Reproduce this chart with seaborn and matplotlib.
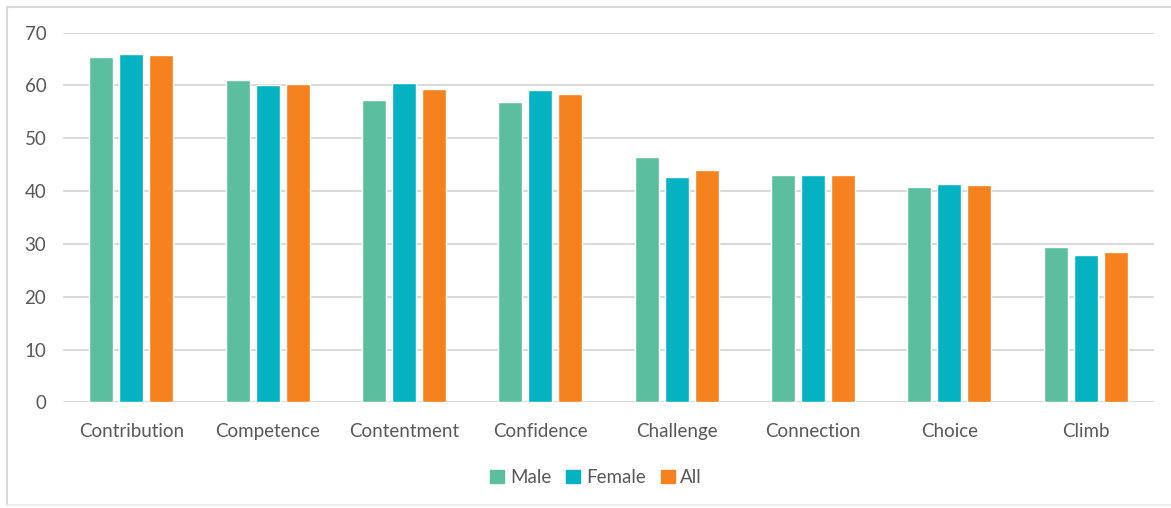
import matplotlib
matplotlib.use("Agg")
import matplotlib.pyplot as plt
from matplotlib.lines import Line2D
import seaborn as sns
import pandas as pd

categories = ["Contribution", "Competence", "Contentment", "Confidence",
              "Challenge", "Connection", "Choice", "Climb"]
male = [65.4, 61.0, 57.2, 56.8, 46.5, 43.1, 40.7, 29.4]
female = [65.9, 60.0, 60.4, 59.1, 42.7, 43.1, 41.4, 27.9]
all_resp = [65.7, 60.2, 59.3, 58.4, 43.9, 43.1, 41.2, 28.5]
groups = ["Male", "Female", "All"]
colors = ["#5BBF9F", "#04B2C2", "#F5821F"]
y_ticks = [0, 10, 20, 30, 40, 50, 60, 70]

df = pd.DataFrame({
    "Category": categories * 3,
    "Group": [g for g in groups for _ in categories],
    "Score": male + female + all_resp,
})

sns.set_theme(style="white")
plt.rcParams["font.family"] = ["Lato", "DejaVu Sans"]
text_color = "#595959"
grid_color = "#D9D9D9"

fig = plt.figure(figsize=(11.71, 5.08), dpi=100)
ax = fig.add_axes([0.0538, 0.2077, 0.9317, 0.7283])

sns.barplot(data=df, x="Category", y="Score", hue="Group",
            hue_order=groups, palette=colors, order=categories,
            width=0.66, gap=0.2, saturation=1, ax=ax, legend=False)

ax.set_ylim(0, 70)
ax.set_xlim(-0.5, len(categories) - 0.5)
ax.set_yticks(y_ticks)
ax.set_xlabel("")
ax.set_ylabel("")
ax.yaxis.grid(True, color=grid_color, linewidth=1.4)
ax.set_axisbelow(True)
for side in ["top", "right", "left", "bottom"]:
    ax.spines[side].set_visible(False)
ax.tick_params(axis="both", length=0, colors=text_color, labelsize=13.5)
ax.tick_params(axis="y", pad=12)
ax.tick_params(axis="x", pad=15)

handles = [plt.Rectangle((0, 0), 1, 1, color=c) for c in colors]
fig.legend(handles, groups, loc="center", bbox_to_anchor=(0.509, 0.06),
           ncol=3, frameon=False, fontsize=13.5, labelcolor=text_color,
           handlelength=0.75, handleheight=0.75, handletextpad=0.3,
           columnspacing=0.8)

# light frame around the chart area
frame_kw = dict(color="#D9D9D9", linewidth=1.5, transform=fig.transFigure)
fig.add_artist(Line2D([7 / 1171, 1.0], [1 - 7 / 508, 1 - 7 / 508], **frame_kw))
fig.add_artist(Line2D([7 / 1171, 7 / 1171], [1 - 7 / 508, 1 - 505 / 508], **frame_kw))
fig.add_artist(Line2D([7 / 1171, 1.0], [1 - 505 / 508, 1 - 505 / 508],
                      color="#EDEDED", linewidth=1.2, transform=fig.transFigure))

fig.savefig("out.png", dpi=100)
